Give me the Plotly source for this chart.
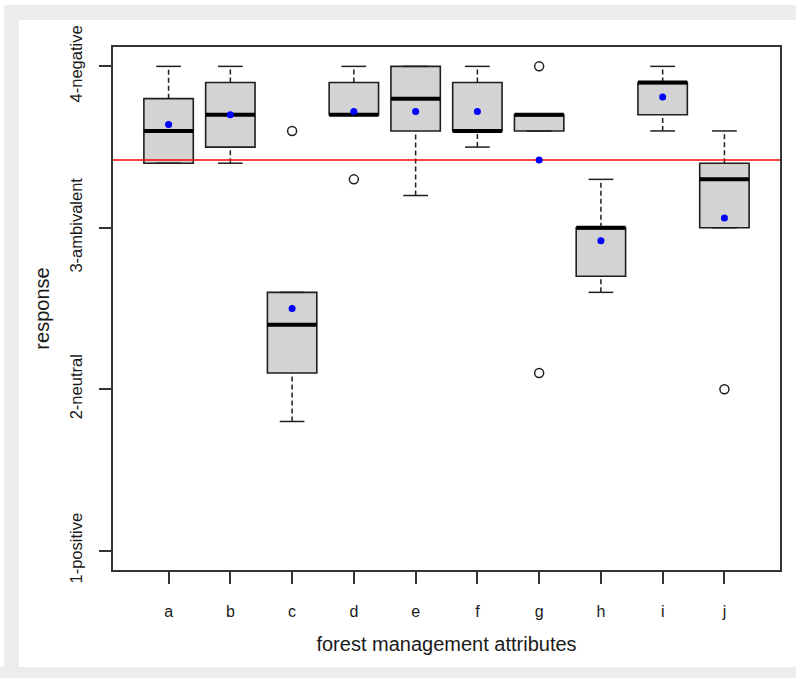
import plotly.graph_objects as go

# ---- data ----
categories = ["a", "b", "c", "d", "e", "f", "g", "h", "i", "j"]
q1 = [3.4, 3.5, 2.1, 3.7, 3.6, 3.6, 3.6, 2.7, 3.7, 3.0]
median = [3.6, 3.7, 2.4, 3.7, 3.8, 3.6, 3.7, 3.0, 3.9, 3.3]
q3 = [3.8, 3.9, 2.6, 3.9, 4.0, 3.9, 3.7, 3.0, 3.9, 3.4]
whisker_low = [3.4, 3.4, 1.8, 3.7, 3.2, 3.5, 3.6, 2.6, 3.6, 3.0]
whisker_high = [4.0, 4.0, 2.6, 4.0, 4.0, 4.0, 3.7, 3.3, 4.0, 3.6]
means = [3.64, 3.70, 2.50, 3.72, 3.72, 3.72, 3.42, 2.92, 3.81, 3.06]
outlier_cat = ["c", "d", "g", "g", "j"]
outlier_val = [3.6, 3.3, 4.0, 2.1, 2.0]
reference_level = 3.42
y_tick_vals = [1, 2, 3, 4]
y_tick_text = ["1-positive", "2-neutral", "3-ambivalent", "4-negative"]

# ---- styling ----
BOX_W = 0.8
CAP_W = 0.4
XRANGE = [0.1, 10.9]
YRANGE = [0.88, 4.12]
INK = "#1f1f1f"
FONT = "Liberation Sans, Arial, sans-serif"

W, H = 796, 678
ML, MR, MT, MB = 113, 16, 47, 108

xpos = list(range(1, len(categories) + 1))
pos_of = dict(zip(categories, xpos))

fig = go.Figure()

# boxes
fig.add_trace(go.Box(
    x=xpos, q1=q1, median=median, q3=q3,
    lowerfence=q1, upperfence=q3,
    width=BOX_W, whiskerwidth=0,
    fillcolor="#d3d3d3", line=dict(color=INK, width=1.6),
    boxpoints=False, showlegend=False, hoverinfo="skip",
))

# dashed whiskers
wx, wy = [], []
for x, lo, b1, b3, hi in zip(xpos, whisker_low, q1, q3, whisker_high):
    wx += [x, x, None, x, x, None]
    wy += [lo, b1, None, b3, hi, None]
fig.add_trace(go.Scatter(x=wx, y=wy, mode="lines",
                         line=dict(color=INK, width=1.5, dash="5px,3px"),
                         showlegend=False, hoverinfo="skip"))

# whisker caps
cx, cy = [], []
for x, lo, hi in zip(xpos, whisker_low, whisker_high):
    cx += [x - CAP_W / 2, x + CAP_W / 2, None, x - CAP_W / 2, x + CAP_W / 2, None]
    cy += [lo, lo, None, hi, hi, None]
fig.add_trace(go.Scatter(x=cx, y=cy, mode="lines",
                         line=dict(color=INK, width=1.5),
                         showlegend=False, hoverinfo="skip"))

# thick medians
mx, my = [], []
for x, m in zip(xpos, median):
    mx += [x - BOX_W / 2, x + BOX_W / 2, None]
    my += [m, m, None]
fig.add_trace(go.Scatter(x=mx, y=my, mode="lines",
                         line=dict(color="#000000", width=4),
                         showlegend=False, hoverinfo="skip"))

# reference line
fig.add_trace(go.Scatter(x=XRANGE, y=[reference_level, reference_level], mode="lines",
                         line=dict(color="#ff0000", width=1.6),
                         showlegend=False, hoverinfo="skip"))

# outliers
fig.add_trace(go.Scatter(x=[pos_of[c] for c in outlier_cat], y=outlier_val, mode="markers",
                         marker=dict(symbol="circle-open", size=9, color=INK,
                                     line=dict(width=1.5, color=INK)),
                         showlegend=False, hoverinfo="skip"))

# means
fig.add_trace(go.Scatter(x=xpos, y=means, mode="markers",
                         marker=dict(symbol="circle", size=7, color="#0000ff"),
                         showlegend=False, hoverinfo="skip"))

# gray frame around the image (screenshot border)
def px_x(p):
    return (p - ML) / (W - ML - MR)

def px_y(p):
    return (H - MB - p) / (H - MT - MB)

GRAY = "#ececec"
shapes = [
    dict(type="rect", xref="paper", yref="paper", x0=px_x(4), x1=px_x(19),
         y0=px_y(5), y1=px_y(667), fillcolor=GRAY, line=dict(width=0), layer="below"),
    dict(type="rect", xref="paper", yref="paper", x0=px_x(4), x1=px_x(796),
         y0=px_y(5), y1=px_y(20), fillcolor=GRAY, line=dict(width=0), layer="below"),
    dict(type="rect", xref="paper", yref="paper", x0=px_x(0), x1=px_x(796),
         y0=px_y(667), y1=px_y(678), fillcolor=GRAY, line=dict(width=0), layer="below"),
]

fig.update_layout(
    width=W, height=H,
    margin=dict(l=ML, r=MR, t=MT, b=MB),
    paper_bgcolor="white", plot_bgcolor="white",
    font=dict(family=FONT, color="#1a1a1a"),
    shapes=shapes,
    showlegend=False,
    xaxis=dict(
        range=XRANGE, tickmode="array", tickvals=xpos, ticktext=categories,
        ticks="outside", ticklen=12, tickwidth=1.5, tickcolor="#333333",
        showline=True, mirror=True, linecolor="#333333", linewidth=1.5,
        showgrid=False, zeroline=False, tickfont=dict(size=16),
        ticklabelstandoff=14,
        title=dict(text="forest management attributes", font=dict(size=20), standoff=18),
    ),
    yaxis=dict(
        range=YRANGE, tickmode="array", tickvals=y_tick_vals, ticktext=y_tick_text,
        tickangle=-90,
        ticks="outside", ticklen=12, tickwidth=1.5, tickcolor="#333333",
        showline=True, mirror=True, linecolor="#333333", linewidth=1.5,
        showgrid=False, zeroline=False, tickfont=dict(size=16.5),
        ticklabelstandoff=11,
        title=dict(text="response", font=dict(size=20), standoff=12),
    ),
)

fig.write_html(
    "out.html",
    config={"displayModeBar": False},
    post_script="document.body.style.margin='0';document.body.style.overflow='hidden';",
)
